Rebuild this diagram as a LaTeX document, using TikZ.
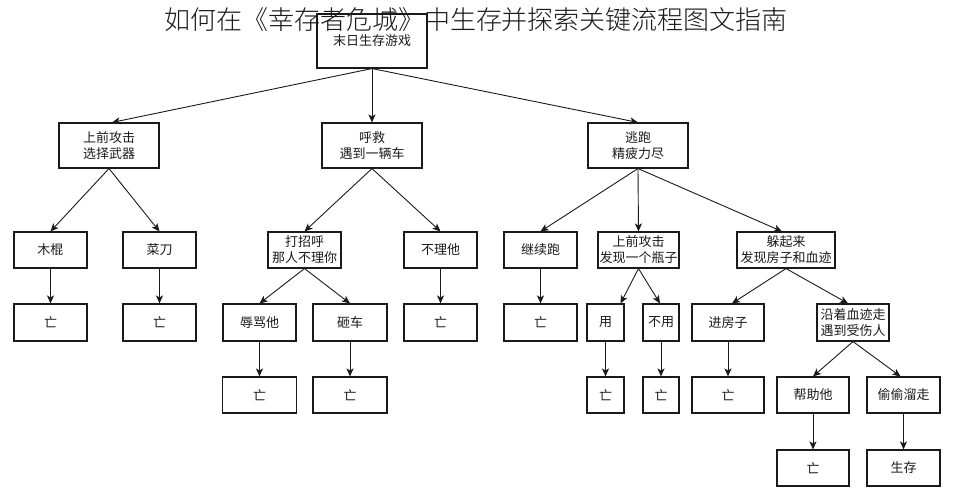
\documentclass[tikz,border=0pt]{standalone}
\usepackage{fontspec}
\newfontfamily\cjk{Noto Sans CJK SC}
\newfontfamily\cjklight{Noto Sans CJK SC Light}
\usetikzlibrary{arrows.meta}
\definecolor{ink}{HTML}{1A1A1A}
\tikzset{
  box/.style={draw=ink, line width=1.1pt, inner sep=0pt, align=center,
    font=\cjk\fontsize{13}{16}\selectfont, text=ink},
  conn/.style={draw=ink, line width=0.9pt, -{Stealth[length=8pt,width=7pt,inset=2pt]}},
  titletext/.style={font=\cjklight\fontsize{26}{28}\selectfont, text=ink, inner sep=0pt}
}
\begin{document}
\begin{tikzpicture}[x=1pt,y=-1pt]
\useasboundingbox (0,0) rectangle (954,500);
% level 0
\node[box, minimum width=110pt, minimum height=54pt] (root) at (372,41) {末日生存游戏};
% level 1
\node[box, minimum width=100pt, minimum height=45pt] (a1) at (109,145.5) {上前攻击\\选择武器};
\node[box, minimum width=100pt, minimum height=45pt] (a2) at (372,145.5) {呼救\\遇到一辆车};
\node[box, minimum width=100pt, minimum height=45pt] (a3) at (638,145.5) {逃跑\\精疲力尽};
% level 2
\node[box, minimum width=73pt, minimum height=36pt] (b1) at (50.5,250) {木棍};
\node[box, minimum width=73pt, minimum height=36pt] (b2) at (159.5,250) {菜刀};
\node[box, minimum width=73pt, minimum height=36pt] (b3) at (304.5,250) {打招呼\\那人不理你};
\node[box, minimum width=73pt, minimum height=36pt] (b4) at (440.5,250) {不理他};
\node[box, minimum width=73pt, minimum height=36pt] (b5) at (540.5,250) {继续跑};
\node[box, minimum width=81pt, minimum height=36pt] (b6) at (638.5,250) {上前攻击\\发现一个瓶子};
\node[box, minimum width=98pt, minimum height=36pt] (b7) at (786,250) {躲起来\\发现房子和血迹};
% level 3
\node[box, minimum width=73pt, minimum height=37pt] (c1) at (50.5,322.5) {亡};
\node[box, minimum width=73pt, minimum height=37pt] (c2) at (159.5,322.5) {亡};
\node[box, minimum width=73pt, minimum height=37pt] (c3) at (259.5,322.5) {辱骂他};
\node[box, minimum width=74pt, minimum height=37pt] (c4) at (350,322.5) {砸车};
\node[box, minimum width=73pt, minimum height=37pt] (c5) at (440.5,322.5) {亡};
\node[box, minimum width=73pt, minimum height=37pt] (c6) at (540.5,322.5) {亡};
\node[box, minimum width=37pt, minimum height=37pt] (c7) at (605.5,322.5) {用};
\node[box, minimum width=36pt, minimum height=37pt] (c8) at (661,322.5) {不用};
\node[box, minimum width=72pt, minimum height=37pt] (c9) at (728,322.5) {进房子};
\node[box, minimum width=72pt, minimum height=37pt] (c10) at (853,322.5) {沿着血迹走\\遇到受伤人};
% level 4
\node[box, minimum width=74pt, minimum height=36pt] (d1) at (259.5,395) {亡};
\node[box, minimum width=74pt, minimum height=36pt] (d2) at (350,395) {亡};
\node[box, minimum width=37pt, minimum height=36pt] (d3) at (605.5,395) {亡};
\node[box, minimum width=36pt, minimum height=36pt] (d4) at (661,395) {亡};
\node[box, minimum width=72pt, minimum height=36pt] (d5) at (728,395) {亡};
\node[box, minimum width=72pt, minimum height=36pt] (d6) at (813,395) {帮助他};
\node[box, minimum width=73pt, minimum height=36pt] (d7) at (903.5,395) {偷偷溜走};
% level 5
\node[box, minimum width=72pt, minimum height=36pt] (e1) at (813,468) {亡};
\node[box, minimum width=73pt, minimum height=36pt] (e2) at (903.5,468) {生存};
% connectors
\draw[conn] (root.south) -- ([xshift=3pt]a1.north);
\draw[conn] (root.south) -- (a2.north);
\draw[conn] (root.south) -- (a3.north);
\draw[conn] (a1.south) -- (b1.north);
\draw[conn] (a1.south) -- (b2.north);
\draw[conn] (a2.south) -- (b3.north);
\draw[conn] (a2.south) -- (b4.north);
\draw[conn] (a3.south) -- (b5.north);
\draw[conn] (a3.south) -- (b6.north);
\draw[conn] (a3.south) -- ([xshift=-4pt]b7.north);
\draw[conn] (b1.south) -- (c1.north);
\draw[conn] (b2.south) -- (c2.north);
\draw[conn] (b3.south) -- (c3.north);
\draw[conn] (b3.south) -- (c4.north);
\draw[conn] (b4.south) -- (c5.north);
\draw[conn] (b5.south) -- (c6.north);
\draw[conn] (b6.south) -- ([xshift=15pt]c7.north);
\draw[conn] (b6.south) -- ([xshift=-1pt]c8.north);
\draw[conn] (b7.south) -- ([xshift=4pt]c9.north);
\draw[conn] (b7.south) -- ([xshift=-5pt]c10.north);
\draw[conn] (c3.south) -- (d1.north);
\draw[conn] (c4.south) -- (d2.north);
\draw[conn] (c7.south) -- (d3.north);
\draw[conn] (c8.south) -- (d4.north);
\draw[conn] (c9.south) -- (d5.north);
\draw[conn] (c10.south) -- (d6.north);
\draw[conn] (c10.south) -- ([xshift=-3pt]d7.north);
\draw[conn] (d6.south) -- (e1.north);
\draw[conn] (d7.south) -- (e2.north);
% title
\node[titletext] (title) at (476,20) {如何在《幸存者危城》中生存并探索关键流程图文指南};
\end{tikzpicture}
\end{document}
